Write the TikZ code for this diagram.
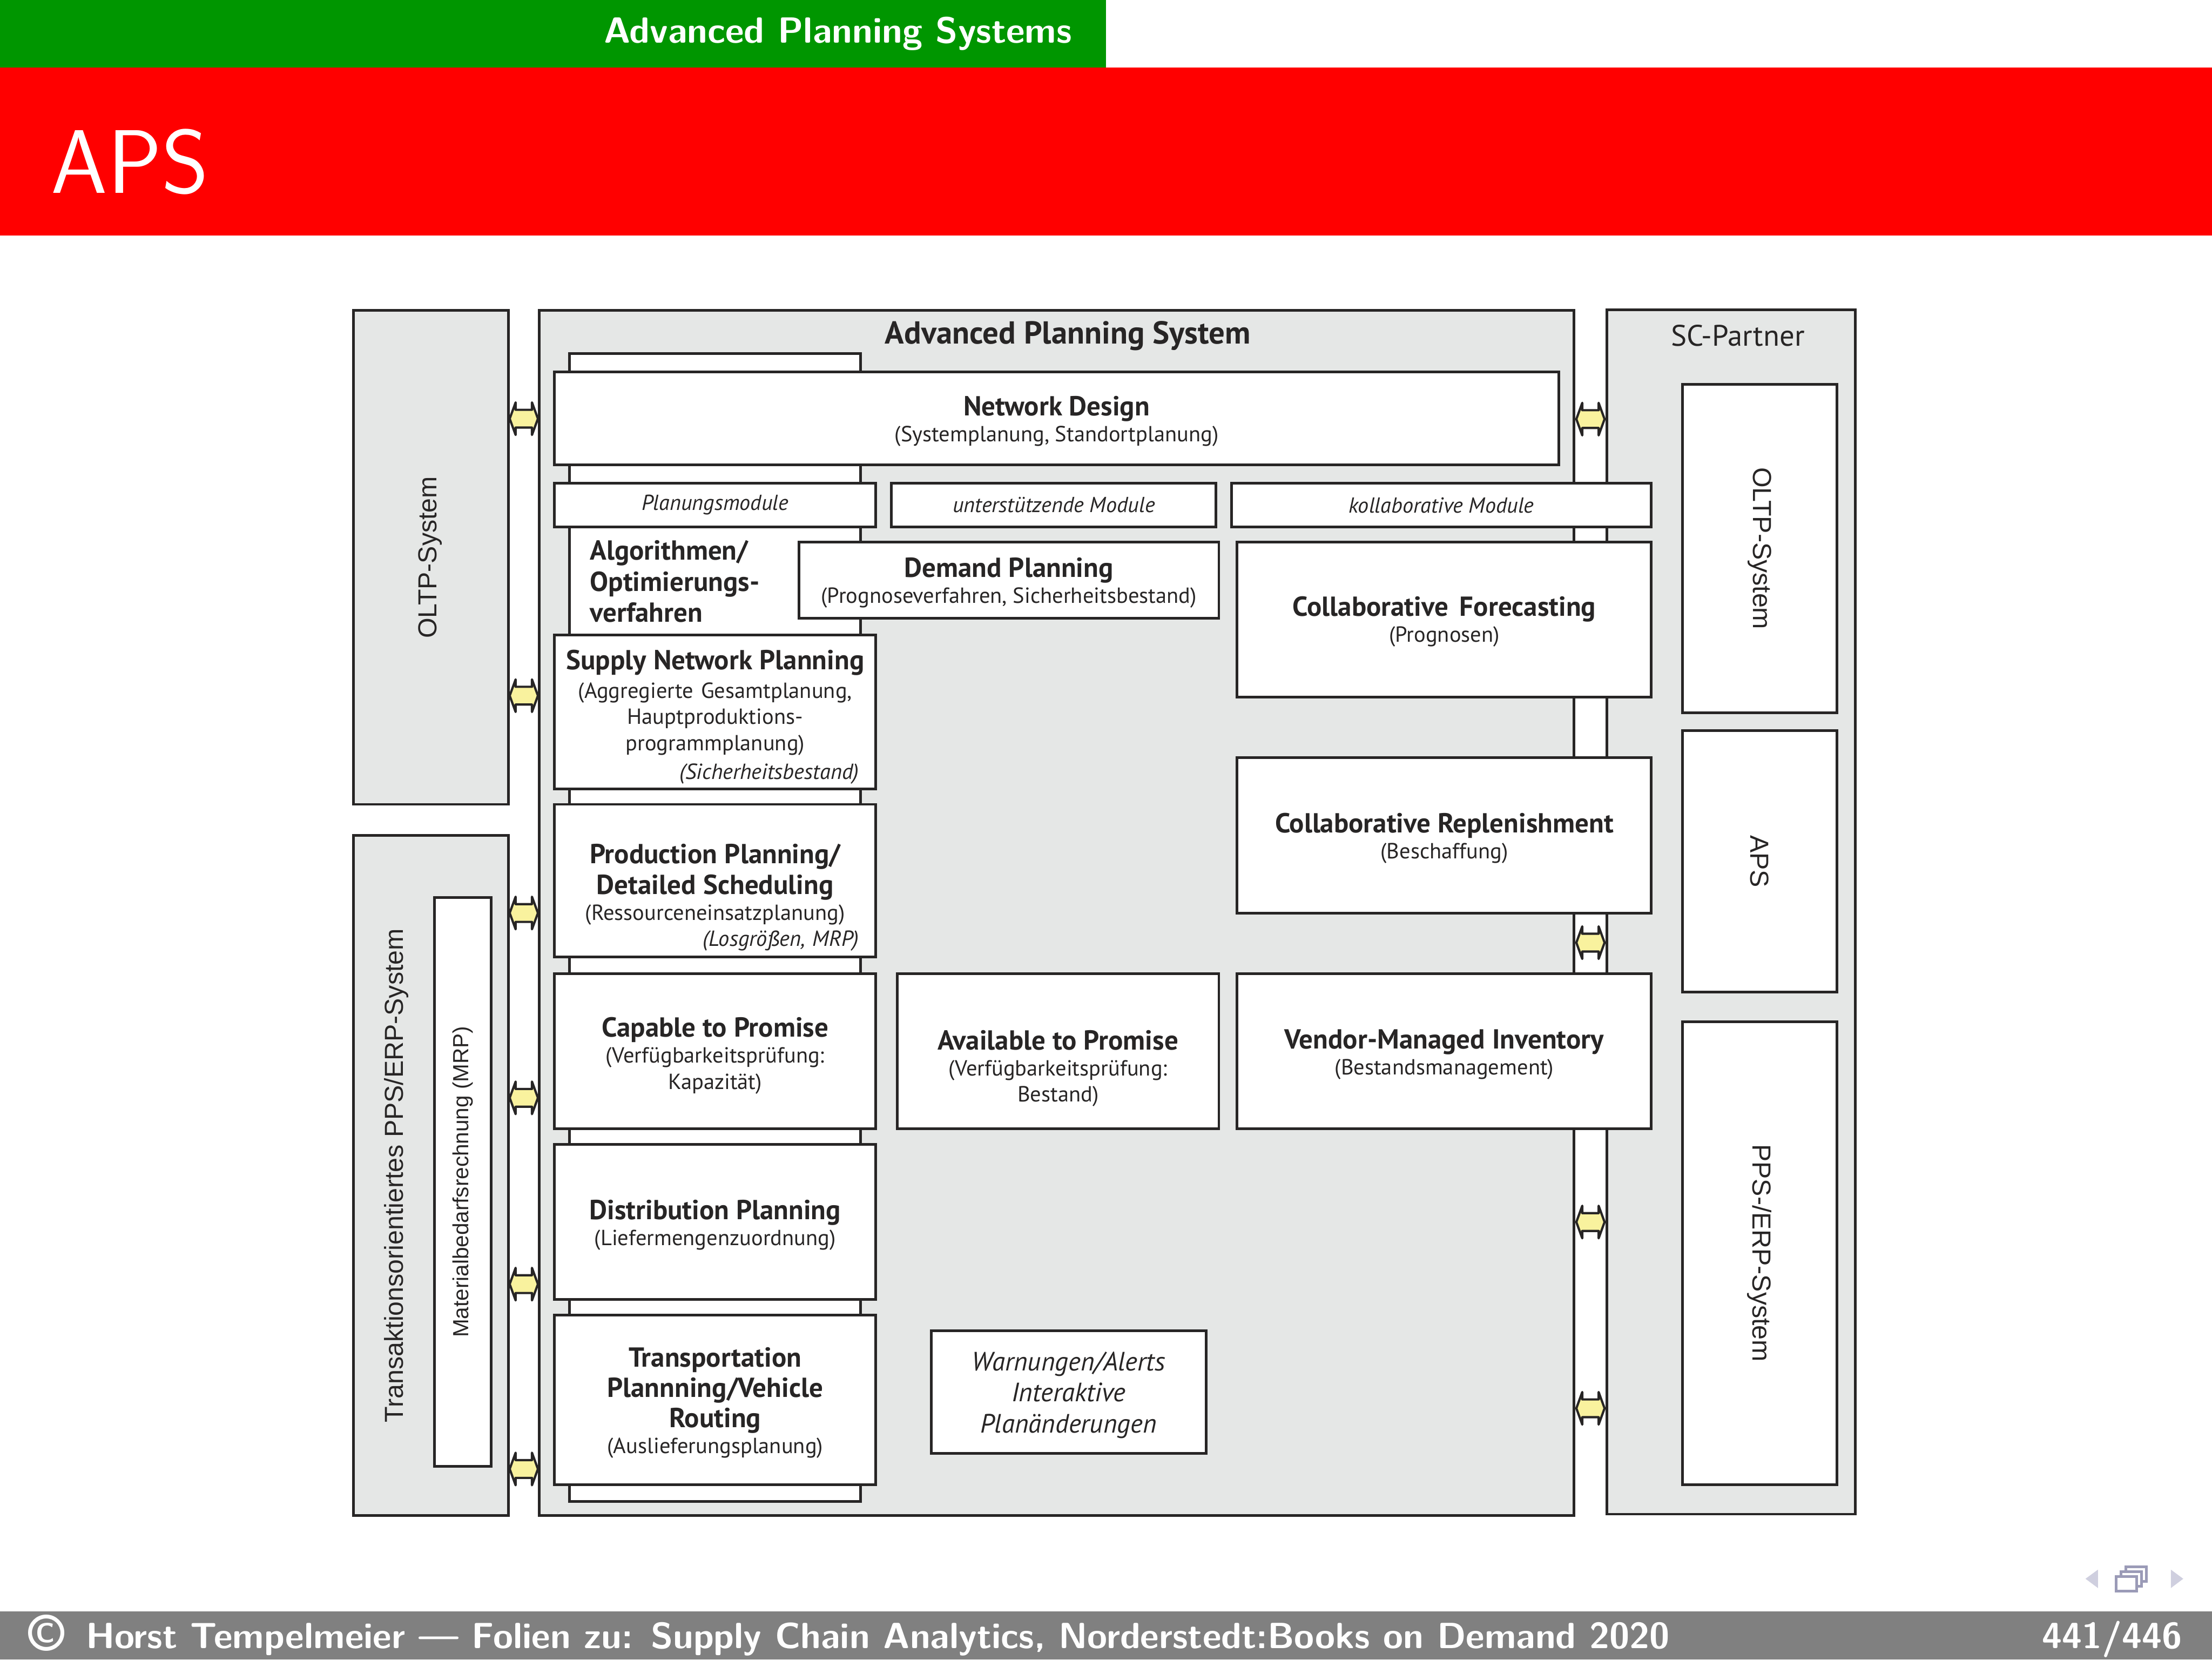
\documentclass[tikz,border=0pt]{standalone}
\usepackage{fontspec}
\setmainfont{PT Sans}
\newfontfamily\arialfont{Liberation Sans}
\usetikzlibrary{shapes.arrows,fit,positioning}
\definecolor{slidegreen}{RGB}{0,150,0}
\definecolor{slidered}{RGB}{255,0,0}
\definecolor{footgray}{RGB}{128,128,128}
\definecolor{panelgray}{RGB}{229,231,230}
\definecolor{inkdark}{RGB}{39,37,37}
\definecolor{linkyellow}{RGB}{249,242,158}
\definecolor{navlight}{RGB}{207,207,223}
\definecolor{navdark}{RGB}{155,155,183}
\newcommand\fsz[2]{\fontsize{#1}{#2}\selectfont}
\newcommand\modtitle[1]{{\bfseries\fsz{19.5}{22}#1}}
\newcommand\lift[1]{\rule{0pt}{#1}}

\begin{document}
\begin{tikzpicture}[
  x=1pt, y=-1pt,
  panel/.style={draw=inkdark, fill=panelgray, line width=1.9pt, inner sep=0pt},
  modbox/.style={draw=inkdark, fill=white, line width=1.9pt, inner sep=0pt,
    align=center, text=inkdark, font=\fsz{15.5}{18.5}},
  headbox/.style={modbox, font=\itshape\fsz{15.4}{18}, minimum height=30.8pt},
  vlabel/.style={font=\arialfont\fsz{18.5}{22}, text=inkdark, inner sep=0pt},
  link/.style={double arrow, draw=inkdark, fill=linkyellow, line width=1.6pt,
    line join=round, double arrow tip angle=140, double arrow head extend=5.25pt,
    minimum height=20pt, inner xsep=0pt, inner ysep=5.5pt},
  navbox/.style={draw=navdark, fill=white, line width=2pt}
]
\useasboundingbox (0,0) rectangle (1568,1176);

% slide frame
\fill[slidegreen] (0,0) rectangle (784,48);
\fill[slidered] (0,48) rectangle (1568,167);
\node[text=white, font=\sffamily\bfseries\fsz{25.8}{30}] (section) at (594,24) {Advanced Planning Systems};
\node[text=white, font=\sffamily\fsz{64}{70}, anchor=base west, inner sep=0pt] (frametitle) at (36,137) {APS};
\fill[footgray] (0,1142) rectangle (1568,1176);
\node[anchor=base west, text=white, font=\sffamily\bfseries\fsz{25.8}{30}, inner sep=0pt] (credit) at (20,1168)
  {\raisebox{-2pt}{\fsz{37}{30}\textcopyright}\hspace{15pt}Horst Tempelmeier --- Folien zu: Supply Chain Analytics, Norderstedt:Books on Demand 2020};
\node[anchor=base east, text=white, font=\sffamily\bfseries\fsz{25.8}{30}, inner sep=0pt] (pageno) at (1547,1168) {441/446};

% navigation symbols
\fill[navlight] (1478.3,1118.8) -- (1487.2,1112.3) -- (1487.2,1125.4) -- cycle;
\fill[navlight] (1547.6,1118.8) -- (1538.8,1112.3) -- (1538.8,1125.4) -- cycle;
\draw[navbox] (1506.8,1110.2) rectangle (1521.4,1120.6);
\draw[navbox] (1503.5,1113.7) rectangle (1518.1,1124.1);
\draw[navbox] (1499.9,1117.1) rectangle (1514.5,1127.5);

% outer systems
\node[panel, fit={(250.7,219.8) (360.4,570)}] (oltpL) {};
\node[panel, fit={(250.7,592) (360.4,1074)}] (ppsL) {};
\node[panel, fit={(382.2,219.8) (1115.7,1074)}] (aps) {};
\node[panel, fit={(1139,219.7) (1315.3,1073)}] (partner) {};
\node[modbox, minimum width=40pt, minimum height=403pt] (mrp) at (328,837.5) {};
\node[vlabel, rotate=90] (oltpLtxt) at (305,395) {OLTP-System};
\node[vlabel, rotate=90] (ppsLtxt) at (281,833) {Transaktionsorientiertes PPS/ERP-System};
\node[vlabel, rotate=90, font=\arialfont\fsz{15.5}{18}] (mrptxt) at (mrp) {Materialbedarfsrechnung (MRP)};

\node[font=\bfseries\fsz{22.5}{26}, text=inkdark] (apstitle) at (757,238) {Advanced Planning System};
\node[font=\fsz{21}{24}, text=inkdark] (partnertitle) at (1232,238) {SC-Partner};
\node[modbox, minimum width=109.5pt, minimum height=232.7pt] (oltpR) at (1247.25,388.65) {};
\node[modbox, minimum width=109.5pt, minimum height=185pt, below=11pt of oltpR] (apsR) {};
\node[modbox, minimum width=109.5pt, minimum height=328pt] (ppsR) at (1247.25,888) {};
\node[vlabel, rotate=-90] at (oltpR) {OLTP-System};
\node[vlabel, rotate=-90] at (apsR) {APS};
\node[vlabel, rotate=-90] at (ppsR) {PPS-/ERP-System};

% planning modules
\node[modbox, minimum width=206.2pt, minimum height=813.3pt] (column) at (506.9,657.35) {};
\node[modbox, minimum width=711.9pt, minimum height=65.9pt] (nd) at (749.05,296.55)
  {\lift{18pt}\modtitle{Network Design}\\(Systemplanung, Standortplanung)};
\node[headbox, minimum width=227.7pt] (hdplan) at (506.95,357.9) {Planungsmodule};
\node[headbox, minimum width=230pt] (hdsupp) at (747,357.9) {unterstützende Module};
\node[headbox, minimum width=297.6pt] (hdcoll) at (1021.8,358) {kollaborative Module};
\node[anchor=west, align=left, font=\bfseries\fsz{19.5}{22}, text=inkdark, inner sep=0pt] (algo) at (418,412)
  {Algorithmen/\\Optimierungs-\\verfahren};
\node[modbox, minimum width=297.7pt, minimum height=54pt] (dp) at (715.15,411)
  {\lift{18pt}\modtitle{Demand Planning}\\(Prognoseverfahren, Sicherheitsbestand)};
\node[modbox, minimum width=293.6pt, minimum height=110pt] (cf) at (1023.8,439)
  {\lift{17pt}\modtitle{Collaborative\hspace{8pt}Forecasting}\\(Prognosen)};
\node[modbox, text width=216pt, minimum width=227.7pt, minimum height=109pt] (snp) at (506.95,504.5)
  {\lift{21pt}\modtitle{Supply Network Planning}\\[2pt](Aggregierte Gesamtplanung,\\Hauptproduktions-\\programmplanung)\\[2pt]\hfill\textit{(Sicherheitsbestand)}\rule{6pt}{0pt}};
\node[modbox, minimum width=293.6pt, minimum height=110pt] (cr) at (1023.8,592)
  {\lift{18pt}\modtitle{Collaborative Replenishment}\\(Beschaffung)};
\node[modbox, text width=216pt, minimum width=227.7pt, minimum height=108pt] (pp) at (506.95,624)
  {\lift{38pt}\modtitle{Production Planning/}\\[3pt]\modtitle{Detailed Scheduling}\\(Ressourceneinsatzplanung)\\\hfill\textit{(Losgrößen, MRP)}\rule{6pt}{0pt}};
\node[modbox, minimum width=227.7pt, minimum height=110pt] (ctp) at (506.95,745)
  {\lift{20pt}\modtitle{Capable to Promise}\\(Verfügbarkeitsprüfung:\\Kapazität)};
\node[modbox, minimum width=228pt, minimum height=110pt] (atp) at (750,745)
  {\lift{38pt}\modtitle{Available to Promise}\\(Verfügbarkeitsprüfung:\\Bestand)};
\node[modbox, minimum width=293.6pt, minimum height=110pt] (vmi) at (1023.8,745)
  {\lift{18pt}\modtitle{Vendor-Managed Inventory}\\(Bestandsmanagement)};
\node[modbox, minimum width=227.7pt, minimum height=110pt] (dist) at (506.95,866)
  {\lift{18pt}\modtitle{Distribution Planning}\\(Liefermengenzuordnung)};
\node[modbox, minimum width=227.7pt, minimum height=120pt] (tp) at (506.95,992)
  {\lift{18pt}\modtitle{Transportation}\\[3pt]\modtitle{Plannning/Vehicle}\\[3pt]\modtitle{Routing}\\(Auslieferungsplanung)};
\node[modbox, font=\itshape\fsz{18.8}{22}, minimum width=195pt, minimum height=87pt] (alert) at (757.5,986.5)
  {\lift{17.5pt}Warnungen/Alerts\\Interaktive\\Planänderungen};

% data links
\foreach \y in {296.7,493,647,778,910,1041}
  \node[link] at (371.3,\y) {};
\foreach \y in {297,668,866,998}
  \node[link] at (1127.4,\y) {};
\end{tikzpicture}
\end{document}
